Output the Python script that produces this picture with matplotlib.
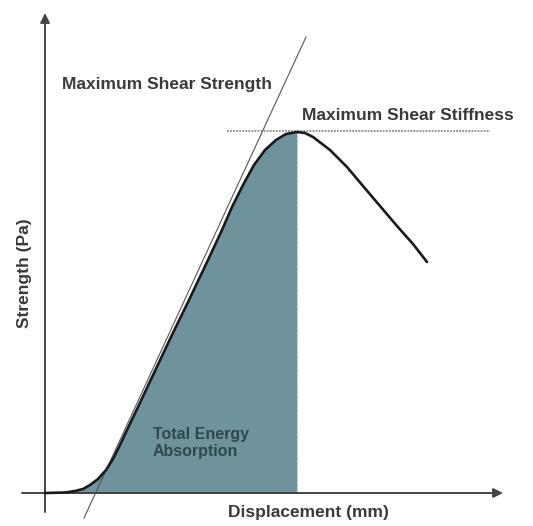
import matplotlib
matplotlib.use('Agg')
import matplotlib.pyplot as plt

# ── Data (displacement, strength) in arbitrary units ─────────────────────────
displacement = [0, 20, 30, 38, 45, 53, 61, 68, 75, 82, 93, 109, 126, 144,
                163, 177, 187, 198, 209, 220, 231, 241, 252, 260, 268, 285,
                302, 318, 335, 352, 368, 382]
strength = [0, 0.5, 2, 4, 8, 14, 23, 34, 48, 63, 86, 120, 156, 193,
            233, 263, 286, 308, 328, 343, 353, 359, 361, 360, 356, 343,
            326, 307, 287, 267, 249, 231]

peak_disp = 252
peak_strength = 361

# tangent line (max shear strength slope) end points
tangent_x = [39, 261]
tangent_y = [-25, 456]

# horizontal dotted line at the peak
stiff_x = [182, 445]

TEXT = '#3a3a3a'
FILL = '#6f939c'

plt.rcParams['font.family'] = ['Liberation Sans', 'DejaVu Sans']

fig = plt.figure(figsize=(5.33, 5.26), dpi=100)
ax = fig.add_axes([0, 0, 1, 1])
ax.set_xlim(-45, 488)
ax.set_ylim(-33, 493)
ax.axis('off')

# area under the curve up to the peak
fill_x = [d for d in displacement if d <= peak_disp]
fill_y = strength[:len(fill_x)]
ax.fill_between(fill_x, fill_y, 0, color=FILL, linewidth=0, zorder=1)
ax.plot([peak_disp + 0.5, peak_disp + 0.5], [0, peak_strength - 2],
        color='#dfe7e9', linestyle=':', linewidth=1.2, zorder=2)

# axes with arrows
ax.annotate('', xy=(0, 480), xytext=(0, -19),
            arrowprops=dict(arrowstyle='-|>', color='#444444', lw=1.4,
                            mutation_scale=14, shrinkA=0, shrinkB=0), zorder=3)
ax.annotate('', xy=(458, 0), xytext=(-23, 0),
            arrowprops=dict(arrowstyle='-|>', color='#444444', lw=1.4,
                            mutation_scale=14, shrinkA=0, shrinkB=0), zorder=3)

# tangent and peak lines
ax.plot(tangent_x, tangent_y, color='#555555', linewidth=0.8, zorder=4)
ax.plot(stiff_x, [peak_strength + 1, peak_strength + 1], color='#777777',
        linestyle=(0, (1.2, 0.8)), linewidth=1.1, zorder=4)

# curve
ax.plot(displacement, strength, color='#1a1a1a', linewidth=1.9,
        solid_joinstyle='round', solid_capstyle='round', zorder=5)

# labels
ax.text(17, 408, 'Maximum Shear Strength', color=TEXT, fontsize=12.5,
        fontweight='bold', va='center', ha='left')
ax.text(257, 378, 'Maximum Shear Stiffness', color=TEXT, fontsize=12.5,
        fontweight='bold', va='center', ha='left')
ax.text(108, 50, 'Total Energy\nAbsorption', color='#2e4750', fontsize=11.5,
        fontweight='bold', va='center', ha='left', linespacing=1.15)
ax.text(263, -19, 'Displacement (mm)', color=TEXT, fontsize=12.5,
        fontweight='bold', va='center', ha='center')
ax.text(-20, 220, 'Strength (Pa)', color=TEXT, fontsize=12.5,
        fontweight='bold', va='center', ha='center', rotation=90)

fig.savefig('out.png', dpi=100, facecolor='white')
